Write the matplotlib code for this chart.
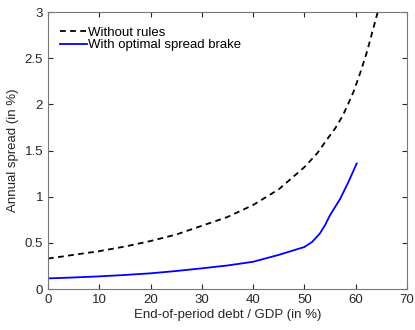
import numpy as np
import matplotlib.pyplot as plt

plt.rcParams['font.family'] = ['Liberation Sans', 'DejaVu Sans']

debt_no_rules = [0, 5, 10, 15, 20, 25, 30, 35, 40, 45, 50, 52.5, 54.4, 56, 57.4, 58.5, 59.6, 61, 62.2, 64.2, 64.6]
spread_no_rules = [0.33, 0.37, 0.41, 0.46, 0.52, 0.59, 0.685, 0.78, 0.91, 1.08, 1.32, 1.47, 1.62, 1.74, 1.87, 2.0, 2.14, 2.36, 2.57, 2.98, 3.06]

debt_brake = [0, 5, 10, 15, 20, 25, 30, 35, 40, 45, 50, 51.5, 53, 54, 55, 57, 58.5, 60.2]
spread_brake = [0.115, 0.125, 0.137, 0.152, 0.17, 0.195, 0.224, 0.255, 0.295, 0.37, 0.455, 0.51, 0.6, 0.69, 0.8, 0.98, 1.15, 1.36]

xticks = np.arange(0, 71, 10)
yticks = [0, 0.5, 1, 1.5, 2, 2.5, 3]
ytick_labels = ['0', '0.5', '1', '1.5', '2', '2.5', '3']

fig = plt.figure(figsize=(4.15, 3.3), dpi=100)
ax = fig.add_axes([0.1157, 0.1242, 0.865, 0.8394])

ax.plot(debt_no_rules, spread_no_rules, '--', color='black', lw=1.3, dashes=(3.2, 2.4),
        label='Without rules')
ax.plot(debt_brake, spread_brake, '-', color='#0000ff', lw=1.3,
        label='With optimal spread brake')

ax.set_xlim(0, 70)
ax.set_ylim(0, 3)
ax.set_xticks(xticks)
ax.set_yticks(yticks)
ax.set_yticklabels(ytick_labels)
ax.tick_params(direction='in', top=True, right=True, length=3.5, width=0.8,
               colors='#262626', labelsize=9.5, labelcolor='#262626')
for s in ax.spines.values():
    s.set_color('#777777')
    s.set_linewidth(0.8)

ax.set_xlabel('End-of-period debt / GDP (in %)', fontsize=9.5, color='#262626', labelpad=2)
ax.set_ylabel('Annual spread (in %)', fontsize=9.5, color='#262626', labelpad=4)

ax.legend(loc='upper left', bbox_to_anchor=(0.019, 0.966), frameon=False,
          fontsize=9.5, handlelength=2.0, handletextpad=0.1, borderaxespad=0,
          labelspacing=0.0)

fig.savefig('out.png', dpi=100)
